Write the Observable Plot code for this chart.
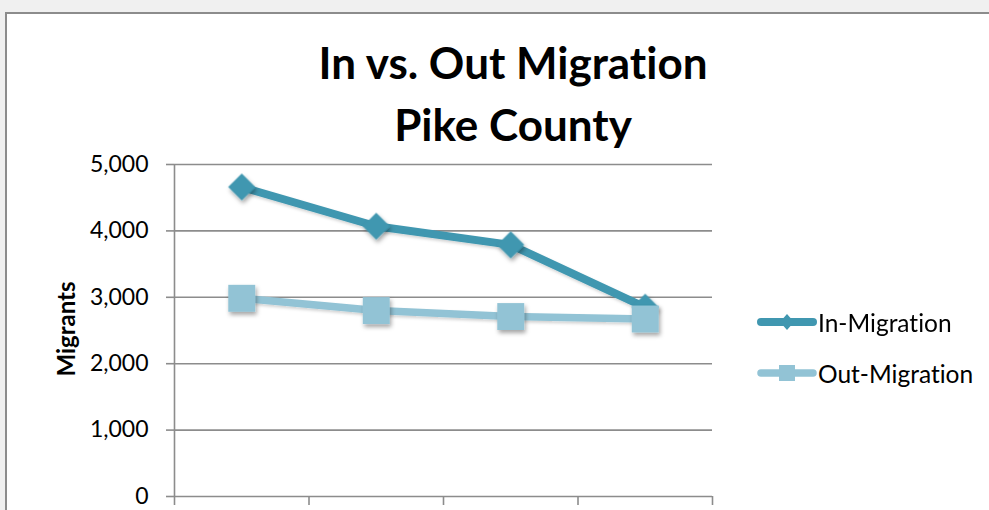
<!DOCTYPE html>
<html>
<head>
<meta charset="utf-8">
<script src="https://cdn.jsdelivr.net/npm/d3@7"></script>
<script src="https://cdn.jsdelivr.net/npm/@observablehq/plot@0.6"></script>
<style>
  html, body { margin: 0; padding: 0; }
  * { font-variant-ligatures: none; font-feature-settings: "liga" 0, "clig" 0; }
  body { background: #f0f0f0; width: 989px; height: 510px; overflow: hidden; position: relative; font-family: Lato, "Open Sans", sans-serif; }
  #frame { position: absolute; left: 5px; top: 12px; width: 1100px; height: 600px; background: #fff; border-left: 2px solid #8c8c8c; border-top: 2px solid #8c8c8c; }
  #chart { position: absolute; left: 0; top: 0; }
  #title { position: absolute; left: 213px; width: 600px; top: 31px; text-align: center; font-weight: bold; font-size: 44px; line-height: 62px; color: #000; white-space: nowrap; }
  #ylabel { position: absolute; left: 65px; top: 329px; transform: translate(-50%, -50%) rotate(-90deg); font-weight: bold; font-size: 24px; color: #000; white-space: nowrap; }
  .item { position: absolute; left: 756px; height: 24px; display: flex; align-items: center; font-size: 24.5px; color: #000; white-space: nowrap; }
  .item svg { display: block; }
</style>
</head>
<body>
<div id="frame"></div>
<div id="chart"></div>
<div id="title">In vs. Out Migration<br>Pike County</div>
<div id="ylabel">Migrants</div>
<div id="legend"></div>
<script>
// ---- data ----
const categories = ["Period 1", "Period 2", "Period 3", "Period 4"];
const seriesNames = ["In-Migration", "Out-Migration"];
const inMigration = [4660, 4070, 3790, 2850];
const outMigration = [2985, 2800, 2710, 2673];
const yTicks = [0, 1000, 2000, 3000, 4000, 5000];

const inColor = "#4097b0";
const outColor = "#92c3d5";
const gridColor = "#8c8c8c";

const data = categories.map((c, i) => ({ i, c, inM: inMigration[i], outM: outMigration[i] }));
const xPos = d => d.i + 0.5;

const chart = Plot.plot({
  width: 989,
  height: 510,
  marginLeft: 174,
  marginRight: 277,
  marginTop: 164,
  marginBottom: 14,
  x: { domain: [0, categories.length] },
  y: { domain: [0, 5000] },
  style: { background: "transparent", fontFamily: "Lato, 'Open Sans', sans-serif", overflow: "visible" },
  marks: [
    Plot.gridY(yTicks, { stroke: gridColor, strokeOpacity: 1, strokeWidth: 1.6 }),
    Plot.axisY(yTicks, { tickSize: 8, tickPadding: 18, tickFormat: d3.format(","), fontSize: 23, stroke: gridColor, strokeWidth: 1.6, fill: "#000", label: null }),
    Plot.axisX(d3.range(categories.length + 1), { tickSize: 9, tickFormat: () => "", stroke: gridColor, strokeWidth: 1.6, label: null }),
    Plot.ruleX([0], { stroke: gridColor, strokeWidth: 1.6 }),
    Plot.line(data, { x: xPos, y: "inM", stroke: inColor, strokeWidth: 8, strokeLinejoin: "round" }),
    Plot.dot(data, { x: xPos, y: "inM", symbol: "diamond2", r: 12.2, fill: inColor, stroke: "none" }),
    Plot.line(data, { x: xPos, y: "outM", stroke: outColor, strokeWidth: 7.5, strokeLinejoin: "round" }),
    Plot.dot(data, { x: xPos, y: "outM", symbol: "square", r: 15.2, fill: outColor, stroke: "none" })
  ]
});
document.getElementById("chart").appendChild(chart);

// drop shadows on markers
const svg = d3.select(chart);
const defs = svg.append("defs");
const f = defs.append("filter").attr("id", "sh").attr("x", "-50%").attr("y", "-50%").attr("width", "200%").attr("height", "200%");
f.append("feDropShadow").attr("dx", 1.5).attr("dy", 3).attr("stdDeviation", 2).attr("flood-color", "#000").attr("flood-opacity", 0.35);
const f2 = defs.append("filter").attr("id", "sh2").attr("x", "-20%").attr("y", "-50%").attr("width", "140%").attr("height", "200%");
f2.append("feDropShadow").attr("dx", 1).attr("dy", 2).attr("stdDeviation", 1.5).attr("flood-color", "#000").attr("flood-opacity", 0.18);
svg.selectAll('g[aria-label="dot"]').attr("filter", "url(#sh)");
svg.selectAll('g[aria-label="line"]').attr("filter", "url(#sh2)");

// legend
const legend = document.getElementById("legend");
const items = [
  { name: seriesNames[0], color: inColor, top: 310, marker: '<path d="M31,4 L38,12 L31,20 L24,12 Z" fill="' + inColor + '"/>', w: 8 },
  { name: seriesNames[1], color: outColor, top: 361, marker: '<rect x="23" y="4" width="16" height="16" fill="' + outColor + '"/>', w: 7.5 }
];
items.forEach(it => {
  const div = document.createElement("div");
  div.className = "item";
  div.style.top = it.top + "px";
  div.innerHTML = '<svg width="62" height="24"><line x1="5" x2="57" y1="12" y2="12" stroke="' + it.color + '" stroke-width="' + it.w + '" stroke-linecap="round"/>' + it.marker + '</svg><span>' + it.name + '</span>';
  legend.appendChild(div);
});
</script>
</body>
</html>
